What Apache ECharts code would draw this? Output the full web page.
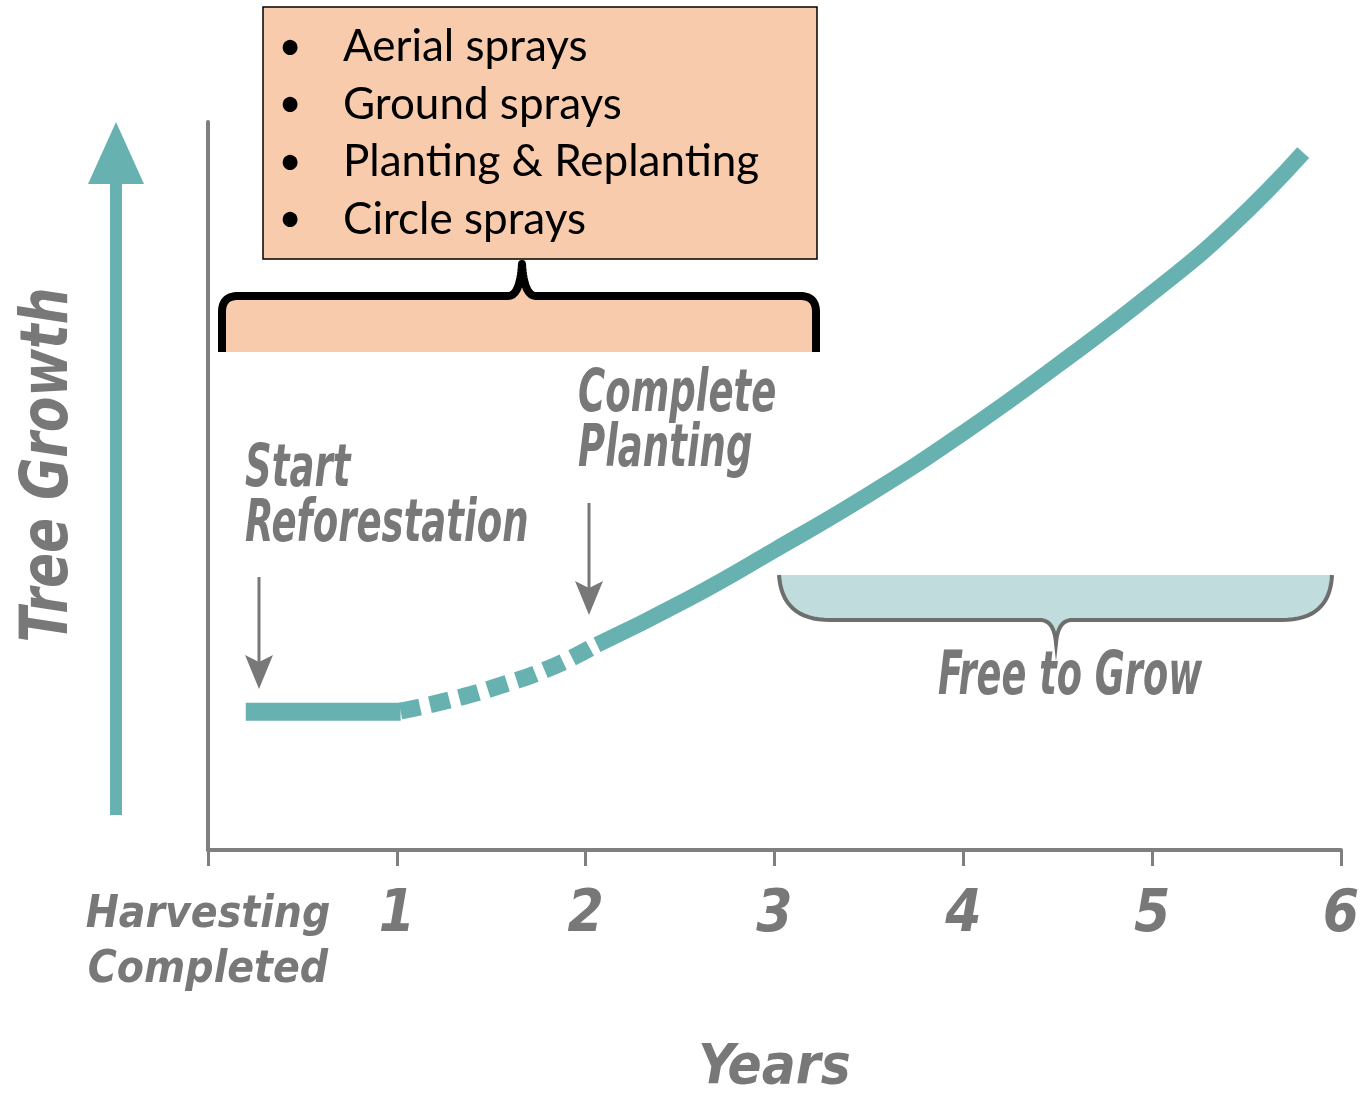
<!DOCTYPE html>
<html>
<head>
<meta charset="utf-8">
<script src="https://cdn.jsdelivr.net/npm/echarts@6/dist/echarts.min.js"></script>
<style>
html,body{margin:0;padding:0;background:#fff;}
#chart{width:1362px;height:1100px;}
</style>
</head>
<body>
<div id="chart"></div>
<script>
// ---- data ----
var tickLabels = ['Harvesting\nCompleted', '1', '2', '3', '4', '5', '6'];
var flatYears = [0.2, 1.02];
var flatGrowth = [19.0, 19.0];
var dashYears = [1.02, 1.28, 1.55, 1.81, 2.03];
var dashGrowth = [19.1, 20.6, 22.6, 25.0, 27.8];
var solidYears = [2.06, 2.53, 3.0, 3.51, 4.0, 4.5, 5.0, 5.41, 5.8];
var solidGrowth = [28.2, 34.3, 41.2, 49.0, 57.3, 66.6, 76.5, 85.5, 95.8];
var bulletItems = ['Aerial sprays', 'Ground sprays', 'Planting & Replanting', 'Circle sprays'];

function pairs(xs, ys){ return xs.map(function(x,i){ return [x, ys[i]]; }); }

// sample a simple path made of M / L / Q commands into a point list
function samplePath(cmds){
  var pts = [], cur = null;
  cmds.forEach(function(c){
    if (c[0] === 'M' || c[0] === 'L') { cur = [c[1], c[2]]; pts.push(cur); }
    else if (c[0] === 'Q') {
      var p0 = cur, cx = c[1], cy = c[2], x = c[3], y = c[4];
      for (var i = 1; i <= 16; i++) {
        var t = i/16, u = 1-t;
        pts.push([u*u*p0[0] + 2*u*t*cx + t*t*x, u*u*p0[1] + 2*u*t*cy + t*t*y]);
      }
      cur = [x, y];
    }
  });
  return pts;
}

var TEAL = '#67b2b1';
var GREY = '#787878';
var HAND = "'DejaVu Sans Condensed','DejaVu Sans',sans-serif";

var chart = echarts.init(document.getElementById('chart'));

var graphics = [];
// Teal up arrow (Tree Growth)
graphics.push({type:'rect', shape:{x:110, y:170, width:12, height:645}, style:{fill:TEAL}});
graphics.push({type:'polygon', shape:{points:[[116,122],[144,184],[88,184]]}, style:{fill:TEAL}});
graphics.push({type:'text', x:50, y:465, rotation:Math.PI/2, scaleX:0.87,
  style:{text:'Tree Growth', font:'italic bold 66px ' + HAND, fill:GREY, align:'center', verticalAlign:'middle'}});

// Peach box with bullets
graphics.push({type:'rect', shape:{x:263, y:7, width:554, height:252}, style:{fill:'#f8cbad', stroke:'#000', lineWidth:1.5}});
bulletItems.forEach(function(t, i){
  var y = 47 + i*57.5;
  graphics.push({type:'text', style:{text:'\u2022', x:290, y:y, font:'40px Lato, "Open Sans", sans-serif', fill:'#000', align:'center', verticalAlign:'middle'}});
  graphics.push({type:'text', style:{text:t, x:343, y:y, font:'44px Lato, "Open Sans", sans-serif', fill:'#000', align:'left', verticalAlign:'middle'}});
});

// black brace with peach fill
var braceTop = samplePath([['M',222,352],['L',222,312],['Q',222,296,238,296],['L',508,296],['Q',520,296,522,264],
  ['Q',524,296,536,296],['L',800,296],['Q',816,296,816,312],['L',816,352]]);
graphics.push({type:'polygon', shape:{points:braceTop}, style:{fill:'#f8cbad'}});
graphics.push({type:'polyline', shape:{points:braceTop}, style:{fill:null, stroke:'#000', lineWidth:8, lineJoin:'round'}});

// Start Reforestation label + arrow
graphics.push({type:'text', x:245, y:443, scaleX:0.71,
  style:{text:'Start\nReforestation', x:0, y:0, font:'italic bold 58px ' + HAND, lineHeight:55, fill:GREY, align:'left', verticalAlign:'top'}});
graphics.push({type:'rect', shape:{x:257.5, y:577, width:3, height:85}, style:{fill:GREY}});
graphics.push({type:'polygon', shape:{points:[[259,689],[273,655],[259,662],[245,655]]}, style:{fill:GREY}});

// Complete Planting label + arrow
graphics.push({type:'text', x:578, y:368, scaleX:0.71,
  style:{text:'Complete\nPlanting', x:0, y:0, font:'italic bold 58px ' + HAND, lineHeight:55, fill:GREY, align:'left', verticalAlign:'top'}});
graphics.push({type:'rect', shape:{x:587.5, y:503, width:3, height:85}, style:{fill:GREY}});
graphics.push({type:'polygon', shape:{points:[[589,615],[603,581],[589,588],[575,581]]}, style:{fill:GREY}});

// Free to Grow brace
var growBrace = samplePath([['M',779,575],['Q',782,620,830,620],['L',1040,620],['Q',1054,620,1056,643],
  ['Q',1058,620,1072,620],['L',1282,620],['Q',1330,620,1332,575]]);
graphics.push({type:'polygon', shape:{points:growBrace}, style:{fill:'#c0dcdc'}});
graphics.push({type:'polyline', shape:{points:growBrace}, style:{fill:null, stroke:'#6e6e6e', lineWidth:4}});
graphics.push({type:'text', x:1070, y:678, scaleX:0.68,
  style:{text:'Free to Grow', x:0, y:0, font:'italic bold 60px ' + HAND, fill:GREY, align:'center', verticalAlign:'middle'}});

var option = {
  animation:false,
  backgroundColor:'#fff',
  grid:{left:208, right:21, top:122, bottom:250, containLabel:false, outerBoundsMode:'none'},
  xAxis:{
    type:'value', min:0, max:6, interval:1,
    name:'Years', nameLocation:'middle', nameGap:190,
    nameTextStyle:{fontFamily:HAND, fontStyle:'italic', fontWeight:'bold', fontSize:56, color:GREY},
    axisLine:{show:true, onZero:false, lineStyle:{color:'#7f7f7f', width:4}},
    axisTick:{show:true, length:16, lineStyle:{color:'#7f7f7f', width:3}},
    axisLabel:{show:true, margin:38, color:GREY,
      formatter:function(v){
        var i = Math.round(v);
        return i === 0 ? '{h|' + tickLabels[0].split('\n').join('}\n{h|') + '}' : '{n|' + tickLabels[i] + '}';
      },
      rich:{
        h:{fontFamily:HAND, fontStyle:'italic', fontWeight:'bold', fontSize:44, lineHeight:55, color:GREY},
        n:{fontFamily:HAND, fontStyle:'italic', fontWeight:'bold', fontSize:58, lineHeight:55, color:GREY}
      }},
    splitLine:{show:false}
  },
  yAxis:{
    type:'value', min:0, max:100,
    axisLine:{show:true, onZero:false, lineStyle:{color:'#7f7f7f', width:4}},
    axisTick:{show:false}, axisLabel:{show:false}, splitLine:{show:false}
  },
  series:[
    {name:'flat', type:'line', data:pairs(flatYears, flatGrowth), showSymbol:false, symbol:'none',
      lineStyle:{color:TEAL, width:18, cap:'butt'}},
    {name:'dashed', type:'line', data:pairs(dashYears, dashGrowth), showSymbol:false, symbol:'none', smooth:0.5,
      lineStyle:{color:TEAL, width:17, type:[20,10], cap:'butt'}},
    {name:'solid', type:'line', data:pairs(solidYears, solidGrowth), showSymbol:false, symbol:'none', smooth:0.5,
      lineStyle:{color:TEAL, width:16, cap:'butt'}}
  ],
  graphic:graphics
};
chart.setOption(option);
</script>
</body>
</html>
